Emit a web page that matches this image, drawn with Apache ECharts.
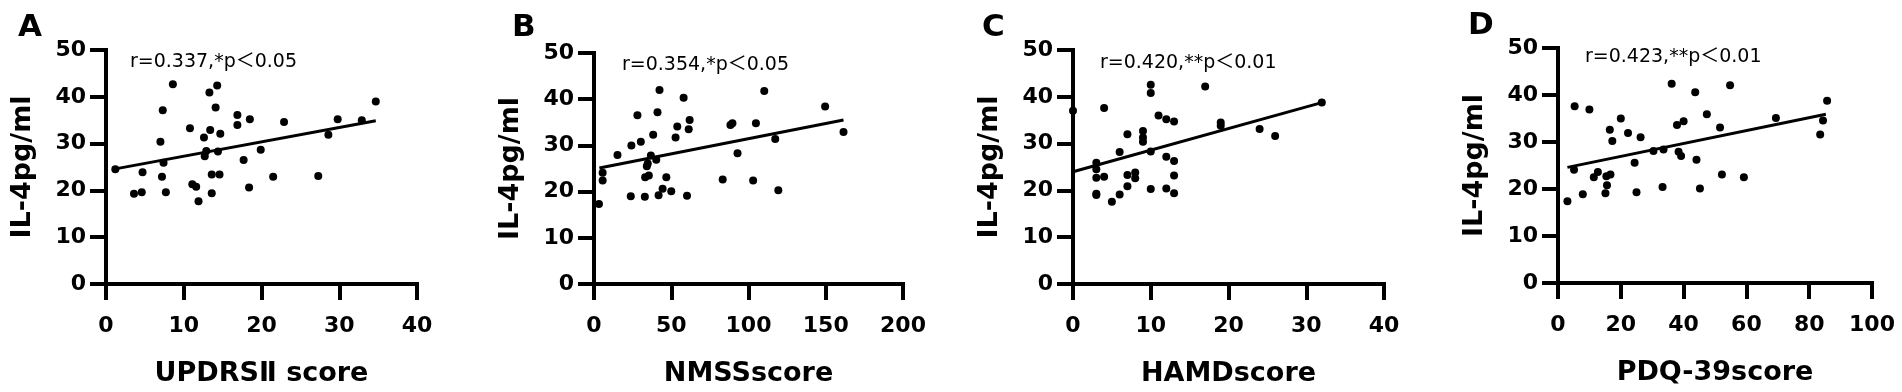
<!DOCTYPE html>
<html>
<head>
<meta charset="utf-8">
<script src="https://cdn.jsdelivr.net/npm/echarts@6/dist/echarts.min.js"></script>
<style>
  html, body { margin: 0; padding: 0; background: #fff; }
  #main { width: 1902px; height: 392px; }
</style>
</head>
<body>
<div id="main"></div>
<script>
// IL-4 correlation with four clinical scores
var yName = 'IL-4pg/ml';
var panelLetters = ['A', 'B', 'C', 'D'];
var xNames = ['UPDRSⅡ score', 'NMSSscore', 'HAMDscore', 'PDQ-39score'];
var notes = ['r=0.337,*p＜0.05', 'r=0.354,*p＜0.05', 'r=0.420,**p＜0.01', 'r=0.423,**p＜0.01'];

var yTicks = [0, 10, 20, 30, 40, 50];
var xTicksA = [0, 10, 20, 30, 40];
var xTicksB = [0, 50, 100, 150, 200];
var xTicksC = [0, 10, 20, 30, 40];
var xTicksD = [0, 20, 40, 60, 80, 100];

// A: UPDRS II
var updrsX = [1.2, 3.6, 4.6, 4.7, 7.0, 7.2, 7.3, 7.4, 7.7, 8.6, 10.8, 11.1, 11.6, 11.9, 12.6, 12.7, 12.9, 13.3, 13.4, 13.6,
  13.6, 14.1, 14.3, 14.4, 14.6, 14.7, 16.9, 16.9, 17.7, 18.4, 18.5, 19.9, 21.5, 22.9, 27.3, 28.6, 29.8, 32.9, 34.7];
var updrsY = [24.5, 19.3, 19.6, 23.9, 30.4, 22.9, 37.1, 25.9, 19.6, 42.7, 33.3, 21.3, 20.8, 17.7, 31.3, 27.3, 28.4, 40.9, 32.9, 23.4,
  19.4, 37.7, 42.4, 28.3, 23.4, 32.1, 36.1, 34.0, 26.5, 20.6, 35.2, 28.7, 22.9, 34.6, 23.1, 31.9, 35.2, 35.0, 39.0];
var updrsFit = [[1.2, 24.6], [34.7, 34.9]];

// B: NMSS
var nmssX = [3.2, 5.6, 5.6, 15.2, 23.8, 24.2, 28.1, 30.3, 32.9, 33.1, 35.5, 34.2, 34.8, 36.8, 38.3, 40.3, 41.1, 42.4, 41.8, 44.4,
  46.8, 50.0, 52.8, 53.9, 58.0, 60.2, 61.3, 61.9, 83.3, 88.3, 89.6, 92.9, 103.0, 104.8, 110.2, 117.3, 119.3, 149.6, 161.5];
var nmssY = [17.3, 24.1, 22.4, 27.9, 19.0, 30.0, 36.5, 30.8, 18.9, 23.1, 23.5, 25.5, 26.1, 27.8, 32.3, 26.9, 37.2, 42.0, 19.2, 20.6,
  23.1, 20.1, 31.7, 34.1, 40.3, 19.1, 33.5, 35.5, 22.6, 34.4, 34.8, 28.3, 22.4, 34.8, 41.8, 31.4, 20.3, 38.4, 32.9];
var nmssFit = [[3.5, 25.1], [161.5, 35.5]];

// C: HAMD
var hamdX = [0, 3, 3, 3, 3, 3, 4, 4, 5, 6, 6, 7, 7, 7, 8, 8, 9, 9, 9, 10,
  10, 10, 10, 11, 12, 12, 12, 13, 13, 13, 13, 17, 19, 19, 24, 26, 32];
var hamdY = [37.0, 25.9, 24.5, 22.7, 19.3, 19.0, 22.9, 37.6, 17.6, 19.1, 28.2, 32.0, 20.9, 23.3, 23.8, 22.6, 32.7, 31.3, 30.4, 42.6,
  40.8, 28.3, 20.3, 36.0, 35.2, 27.2, 20.4, 34.7, 26.3, 23.2, 19.4, 42.2, 34.5, 33.8, 33.1, 31.6, 38.8];
var hamdFit = [[0, 24.0], [32.1, 38.8]];

// D: PDQ-39
var pdqX = [3.0, 5.1, 5.3, 7.9, 10.0, 11.4, 12.7, 15.1, 15.6, 15.4, 16.7, 16.5, 17.3, 20.0, 22.3, 24.4, 25.0, 26.3, 30.4, 33.3,
  33.6, 36.2, 37.9, 40.0, 38.4, 39.2, 43.7, 44.1, 45.2, 47.4, 51.6, 52.2, 54.8, 59.2, 69.4, 83.5, 84.4, 85.7];
var pdqY = [17.4, 24.1, 37.6, 18.9, 36.9, 22.5, 23.6, 19.1, 20.8, 22.7, 23.1, 32.6, 30.2, 35.0, 31.9, 25.6, 19.3, 31.0, 28.1, 20.4,
  28.4, 42.4, 33.6, 34.4, 27.9, 27.0, 40.6, 26.2, 20.1, 35.9, 33.1, 23.1, 42.1, 22.5, 35.1, 31.6, 34.6, 38.8];
var pdqFit = [[3.0, 24.6], [85.3, 35.9]];

var xs = [updrsX, nmssX, hamdX, pdqX];
var ys = [updrsY, nmssY, hamdY, pdqY];
var fits = [updrsFit, nmssFit, hamdFit, pdqFit];
var xTicks = [xTicksA, xTicksB, xTicksC, xTicksD];

var grids = [
  { left: 106, top: 50, width: 311, height: 234 },
  { left: 594, top: 53, width: 309, height: 232 },
  { left: 1073, top: 50, width: 311, height: 235 },
  { left: 1558, top: 48, width: 314, height: 235 }
];
var letterPos = [[18, 28], [512, 28], [982, 28], [1468, 26]];
var notePos = [[130, 62], [622, 65], [1100, 63], [1585, 57]];

var boldFont = 'DejaVu Sans';
var axisLine = { show: true, onZero: false, lineStyle: { color: '#000', width: 4, cap: 'square' } };
var axisTick = { show: true, length: 16, lineStyle: { color: '#000', width: 4 } };

var xAxes = [], yAxes = [], series = [], graphics = [];
for (var i = 0; i < 4; i++) {
  var t = xTicks[i];
  xAxes.push({
    type: 'value', gridIndex: i,
    min: t[0], max: t[t.length - 1], interval: t[1] - t[0],
    name: xNames[i], nameLocation: 'middle', nameGap: 76,
    nameTextStyle: { color: '#000', fontFamily: boldFont, fontWeight: 'bold', fontSize: 27 },
    axisLine: axisLine, axisTick: axisTick, splitLine: { show: false },
    axisLabel: { color: '#000', fontFamily: boldFont, fontWeight: 'bold', fontSize: 22, margin: 31 }
  });
  yAxes.push({
    type: 'value', gridIndex: i,
    min: yTicks[0], max: yTicks[yTicks.length - 1], interval: yTicks[1] - yTicks[0],
    name: yName, nameLocation: 'middle', nameGap: 70,
    nameTextStyle: { color: '#000', fontFamily: boldFont, fontWeight: 'bold', fontSize: 27 },
    axisLine: axisLine, axisTick: axisTick, splitLine: { show: false },
    axisLabel: { color: '#000', fontFamily: boldFont, fontWeight: 'bold', fontSize: 22, margin: 20 }
  });
  series.push({
    type: 'scatter', xAxisIndex: i, yAxisIndex: i,
    data: xs[i].map(function (x, k) { return [x, ys[i][k]]; }),
    symbol: 'circle', symbolSize: 8,
    itemStyle: { color: '#000', opacity: 1 }, z: 3
  });
  series.push({
    type: 'line', xAxisIndex: i, yAxisIndex: i,
    data: fits[i], showSymbol: false, symbol: 'none',
    lineStyle: { color: '#000', width: 3 }, z: 2
  });
  graphics.push({
    type: 'text', x: letterPos[i][0], y: letterPos[i][1],
    style: { text: panelLetters[i], fill: '#000', font: 'bold 31px "DejaVu Sans"', verticalAlign: 'middle' }
  });
  graphics.push({
    type: 'text', x: notePos[i][0], y: notePos[i][1],
    style: { text: notes[i], fill: '#000', font: '19px "DejaVu Sans", "Noto Sans CJK SC"', verticalAlign: 'middle' }
  });
}

var myChart = echarts.init(document.getElementById('main'));
myChart.setOption({
  animation: false,
  backgroundColor: '#fff',
  grid: grids,
  xAxis: xAxes,
  yAxis: yAxes,
  series: series,
  graphic: graphics
});
</script>
</body>
</html>
